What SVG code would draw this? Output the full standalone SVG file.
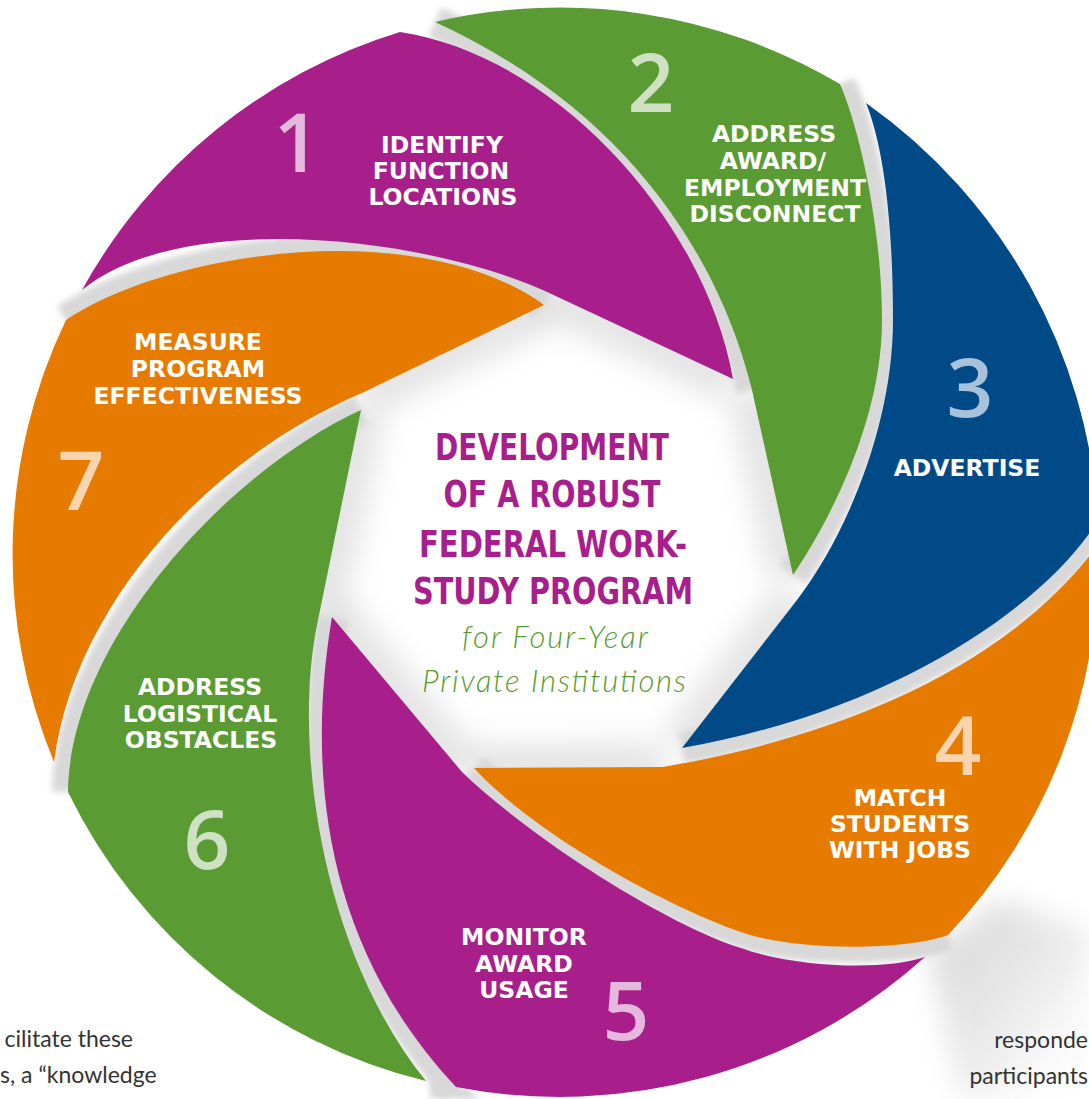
<svg xmlns="http://www.w3.org/2000/svg" width="1089" height="1099" viewBox="0 0 1089 1099">
<defs>
<style>
.lbl{font-family:"DejaVu Sans",Verdana,sans-serif;font-weight:bold;font-size:23.5px;fill:#fff;text-anchor:middle}
.num{font-family:"Open Sans",Lato,sans-serif;font-weight:600;font-size:82px;text-anchor:middle}
.ttl{font-family:"Liberation Sans Narrow","DejaVu Sans Condensed","Roboto Condensed","Liberation Sans",sans-serif;font-stretch:condensed;font-weight:bold;font-size:38px;fill:#A81E8C;text-anchor:middle}
.sub{font-family:Lato,"Open Sans",sans-serif;font-style:italic;font-weight:300;font-size:31px;fill:#5A9C32;text-anchor:middle}
.body{font-family:Lato,"Open Sans",sans-serif;font-size:23px;fill:#333}
.gap{fill:none;stroke:#d8d8d8;stroke-width:32}
.soft{fill:none;stroke:#000;stroke-opacity:.10;stroke-width:50}
.pu{fill:#A81F8C}.gr{fill:#5A9C33}.bl{fill:#004B87}.or{fill:#E77B00}
.npu{fill:#E5B8DD}.ngr{fill:#CFE1C2}.nbl{fill:#A8C2DC}.nor{fill:#F9D4AF}
</style>
<filter id="blur" x="-30%" y="-30%" width="160%" height="160%"><feGaussianBlur stdDeviation="14"/></filter>
<filter id="blur2" x="-30%" y="-30%" width="160%" height="160%"><feGaussianBlur stdDeviation="3"/></filter>
<linearGradient id="corner" x1="0" y1="0" x2="1" y2="1">
<stop offset="0" stop-color="#d0d0d0"/><stop offset="0.6" stop-color="#ececec"/><stop offset="1" stop-color="#ffffff" stop-opacity="0"/>
</linearGradient>
</defs>
<rect width="1089" height="1099" fill="#fff"/>

<g id="shadows">
<path d="M 930,952 L 1000,900 L 1089,930 L 1089,1099 L 960,1099 Z" fill="url(#corner)" opacity="0.9" filter="url(#blur)"/>
<path d="M 430,1075 L 470,1090 L 480,1099 L 430,1099 Z" fill="#d8d8d8" filter="url(#blur2)"/>
<g filter="url(#blur)">
<path class="soft" d="M 733,379 L 545,291"/>
<path class="soft" d="M 544,305 L 362,393"/>
<path class="soft" d="M 361,410 L 318,620"/>
<path class="soft" d="M 332,617 L 462,772"/>
<path class="soft" d="M 474,768 L 663,767"/>
<path class="soft" d="M 682,748 L 797,600"/>
<path class="soft" d="M 793,575 L 752,390"/>
</g>
</g>

<g id="connectors">
<g filter="url(#blur2)">
<path class="gap" d="M 752,390 C 730,300 660,125 435,22"/>
<path class="gap" d="M 66,320 C 170,250 420,215 544,305"/>
<path class="gap" d="M 361,410 C 230,470 70,640 68,792"/>
<path class="gap" d="M 332,617 C 308,760 318,940 456,1087"/>
<path class="gap" d="M 948,935 C 900,952 790,950 741,932 C 680,912 540,840 474,768"/>
<path class="gap" d="M 1098,520 C 1050,600 900,710 682,748"/>
<path class="gap" d="M 840,84 C 860,130 882,230 882,320 C 882,420 830,520 793,575"/>
</g>
</g>

<g id="step1">
<path class="pu" d="M 82,290 A 545 545 0 0 1 400,32 C 555,55 705,220 733,379 L 545,291 C 420,235 180,210 82,290 Z"/>
<text class="num npu" x="297" y="172">1</text>
<text class="lbl" x="442" y="153">IDENTIFY</text>
<text class="lbl" x="441" y="179">FUNCTION</text>
<text class="lbl" x="443" y="205">LOCATIONS</text>
</g>

<g id="step2">
<path class="gr" d="M 435,22 A 550 550 0 0 1 840,84 C 860,130 882,230 882,320 C 882,420 830,520 793,575 L 752,390 C 730,300 660,125 435,22 Z"/>
<text class="num ngr" x="651" y="112">2</text>
<text class="lbl" x="774" y="142">ADDRESS</text>
<text class="lbl" x="773" y="169">AWARD/</text>
<text class="lbl" x="775" y="196">EMPLOYMENT</text>
<text class="lbl" x="775" y="222">DISCONNECT</text>
</g>

<g id="step3">
<path class="bl" d="M 866,103 A 550 550 0 0 1 1098,520 C 1050,600 900,710 682,748 L 797,600 C 850,530 893,420 893,320 C 893,230 885,150 866,103 Z"/>
<text class="num nbl" x="970" y="417">3</text>
<text class="lbl" x="967" y="476">ADVERTISE</text>
</g>

<g id="step4">
<path class="or" d="M 474,768 L 663,767 C 790,745 990,690 1098,545 A 547 547 0 0 1 948,935 C 900,952 790,950 741,932 C 680,912 540,840 474,768 Z"/>
<text class="num nor" x="958" y="775">4</text>
<text class="lbl" x="900" y="806">MATCH</text>
<text class="lbl" x="900" y="832">STUDENTS</text>
<text class="lbl" x="900" y="858">WITH JOBS</text>
</g>

<g id="step5">
<path class="pu" d="M 332,617 C 308,760 318,940 456,1087 A 547 547 0 0 0 925,957 C 880,972 790,966 741,948 C 670,926 535,842 462,772 Z"/>
<text class="num npu" x="626" y="1040">5</text>
<text class="lbl" x="524" y="945">MONITOR</text>
<text class="lbl" x="524" y="972">AWARD</text>
<text class="lbl" x="524" y="998">USAGE</text>
</g>

<g id="step6">
<path class="gr" d="M 361,410 C 230,470 70,640 68,792 A 540 540 0 0 0 426,1081 C 320,950 292,740 318,620 Z"/>
<text class="num ngr" x="207" y="869">6</text>
<text class="lbl" x="200" y="695">ADDRESS</text>
<text class="lbl" x="200" y="722">LOGISTICAL</text>
<text class="lbl" x="201" y="748">OBSTACLES</text>
</g>

<g id="step7">
<path class="or" d="M 66,320 C 170,250 420,215 544,305 L 362,393 C 215,455 75,600 54,762 A 541 541 0 0 1 66,320 Z"/>
<text class="num nor" x="81" y="510">7</text>
<text class="lbl" x="198" y="350">MEASURE</text>
<text class="lbl" x="198" y="377">PROGRAM</text>
<text class="lbl" x="198" y="404">EFFECTIVENESS</text>
</g>

<g id="center">
<text class="ttl" x="552" y="460" textLength="234" lengthAdjust="spacingAndGlyphs">DEVELOPMENT</text>
<text class="ttl" x="552" y="507" textLength="217" lengthAdjust="spacingAndGlyphs">OF A ROBUST</text>
<text class="ttl" x="553" y="557" textLength="268" lengthAdjust="spacingAndGlyphs">FEDERAL WORK-</text>
<text class="ttl" x="553" y="604" textLength="280" lengthAdjust="spacingAndGlyphs">STUDY PROGRAM</text>
<text class="sub" x="555" y="648" textLength="186">for Four-Year</text>
<text class="sub" x="554" y="692" textLength="264">Private Institutions</text>
</g>

<g id="page-text">
<text class="body" x="133" y="1047" text-anchor="end">cilitate these</text>
<text class="body" x="0" y="1083">s, a “knowledge</text>
<text class="body" x="1088" y="1048" text-anchor="end">responde</text>
<text class="body" x="1088" y="1084" text-anchor="end">participants</text>
</g>
</svg>
